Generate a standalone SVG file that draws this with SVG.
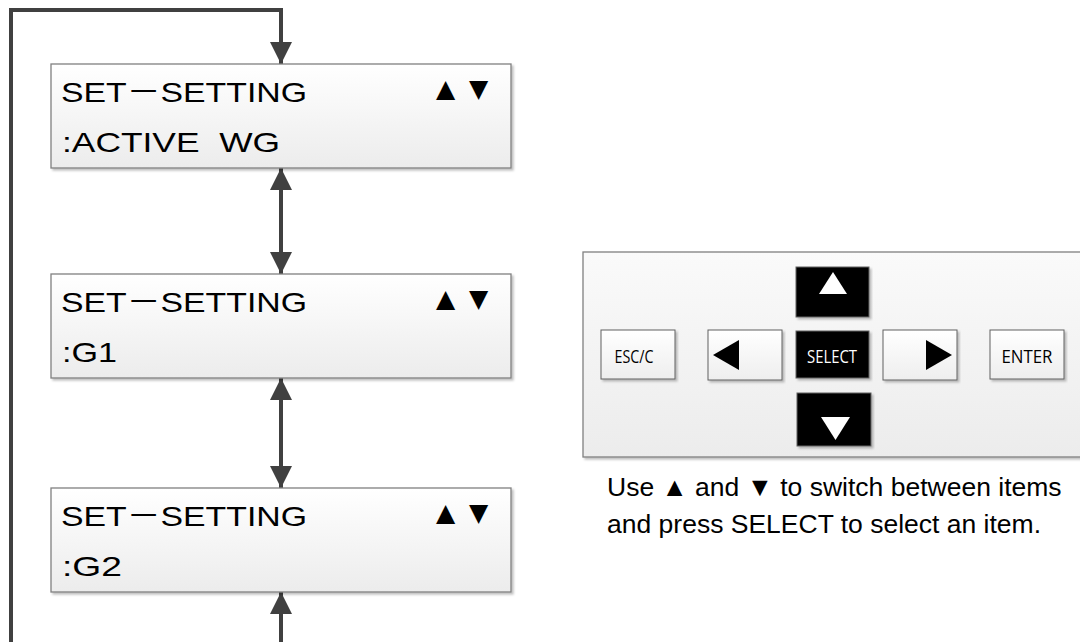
<svg xmlns="http://www.w3.org/2000/svg" width="1080" height="642" viewBox="0 0 1080 642">
<style>
.lcd{fill:url(#g1);stroke:#808080;stroke-width:1.3;filter:url(#sh)}
.lt{font-family:"Liberation Sans",Arial,"Noto Sans CJK JP",sans-serif;font-size:28.5px;fill:#000;white-space:pre}
.tri{font-family:"DejaVu Sans",sans-serif;font-size:25px;fill:#000}
.con{fill:none;stroke:#404040;stroke-width:4}
.btn{fill:url(#g2);stroke:#606060;stroke-width:1;filter:url(#sh)}
.bk{fill:#000;stroke:#606060;stroke-width:1;filter:url(#sh)}
.bt{font-family:"Open Sans","Liberation Sans",sans-serif;font-size:18px;fill:#000;text-anchor:middle}
.cap{font-family:"Liberation Sans",Arial,sans-serif;font-size:26.5px;fill:#000}
</style>
<defs>
<linearGradient id="g1" x1="0" y1="0" x2="0" y2="1"><stop offset="0" stop-color="#ffffff"/><stop offset="1" stop-color="#ececec"/></linearGradient>
<linearGradient id="g2" x1="0" y1="0" x2="0" y2="1"><stop offset="0" stop-color="#ffffff"/><stop offset="1" stop-color="#eeeeee"/></linearGradient>
<linearGradient id="g3" x1="0" y1="0" x2="0" y2="1"><stop offset="0" stop-color="#fafafa"/><stop offset="1" stop-color="#ececec"/></linearGradient>
<filter id="sh" x="-5%" y="-5%" width="110%" height="120%"><feDropShadow dx="2" dy="2" stdDeviation="1" flood-color="#000" flood-opacity="0.25"/></filter>
<marker id="ah" viewBox="0 0 10 10" refX="10" refY="5" markerWidth="5.5" markerHeight="5.5" orient="auto-start-reverse" markerUnits="strokeWidth"><path d="M0,0 L10,5 L0,10 z" fill="#404040"/></marker>
</defs>
<g id="connectors">
<path class="con" d="M281,592 L281,660 L11,660 L11,10 L281,10 L281,64" marker-start="url(#ah)" marker-end="url(#ah)"/>
<path class="con" d="M281,168 L281,274" marker-start="url(#ah)" marker-end="url(#ah)"/>
<path class="con" d="M281,378 L281,488" marker-start="url(#ah)" marker-end="url(#ah)"/>
</g>
<g id="node-active-wg">
<rect class="lcd" x="51" y="64" width="460" height="104"/>
<text class="lt" x="61" y="102" textLength="246" lengthAdjust="spacingAndGlyphs">SET－SETTING</text>
<text class="tri" x="436" y="97">▲</text><text class="tri" x="469" y="97">▼</text>
<text class="lt" x="62" y="152" textLength="218" lengthAdjust="spacingAndGlyphs">:ACTIVE  WG</text>
</g>
<g id="node-g1">
<rect class="lcd" x="51" y="274" width="460" height="104"/>
<text class="lt" x="61" y="312" textLength="246" lengthAdjust="spacingAndGlyphs">SET－SETTING</text>
<text class="tri" x="436" y="307">▲</text><text class="tri" x="469" y="307">▼</text>
<text class="lt" x="62" y="362" textLength="55" lengthAdjust="spacingAndGlyphs">:G1</text>
</g>
<g id="node-g2">
<rect class="lcd" x="51" y="488" width="460" height="104"/>
<text class="lt" x="61" y="526" textLength="246" lengthAdjust="spacingAndGlyphs">SET－SETTING</text>
<text class="tri" x="436" y="521">▲</text><text class="tri" x="469" y="521">▼</text>
<text class="lt" x="62" y="576" textLength="60" lengthAdjust="spacingAndGlyphs">:G2</text>
</g>
<g id="keypad">
<rect x="583" y="252" width="510" height="205" fill="url(#g3)" stroke="#808080" stroke-width="1.3" filter="url(#sh)"/>
<g id="key-up"><rect class="bk" x="796" y="267" width="73" height="50"/><polygon points="833,272 847,294 819,294" fill="#fff"/></g>
<g id="key-select"><rect class="bk" x="796" y="331" width="73" height="47"/><text class="bt" x="832" y="363" textLength="50" lengthAdjust="spacingAndGlyphs" style="fill:#fff">SELECT</text></g>
<g id="key-down"><rect class="bk" x="797" y="393" width="74" height="53"/><polygon points="821,417 850,417 835.5,440" fill="#fff"/></g>
<g id="key-left"><rect class="btn" x="708" y="330" width="74" height="50"/><polygon points="713,355 739,340 739,370" fill="#000"/></g>
<g id="key-right"><rect class="btn" x="883" y="330" width="74" height="50"/><polygon points="952,355 926,340 926,370" fill="#000"/></g>
<g id="key-esc"><rect class="btn" x="601" y="330" width="74" height="49"/><text class="bt" x="634" y="363" textLength="39" lengthAdjust="spacingAndGlyphs">ESC/C</text></g>
<g id="key-enter"><rect class="btn" x="990" y="330" width="74" height="49"/><text class="bt" x="1027" y="363" textLength="51" lengthAdjust="spacingAndGlyphs">ENTER</text></g>
</g>
<g id="caption">
<text class="cap" x="607" y="496">Use ▲ and ▼ to switch between items</text>
<text class="cap" x="607" y="533">and press SELECT to select an item.</text>
</g>
</svg>
